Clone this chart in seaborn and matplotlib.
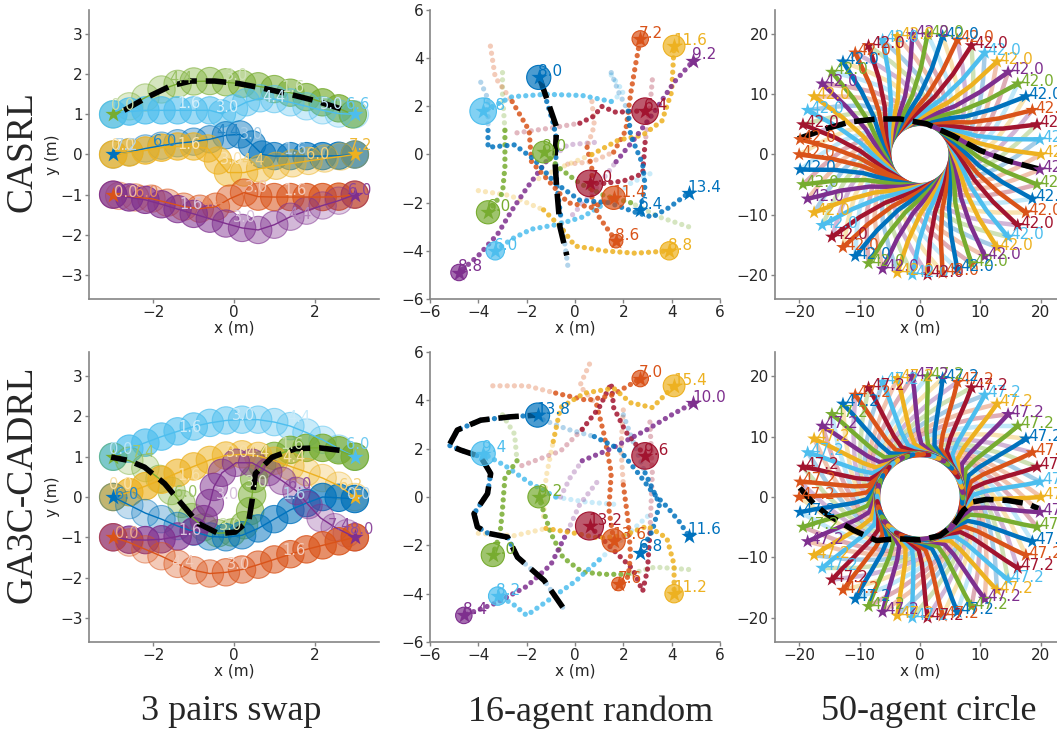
import numpy as np
import pandas as pd
import matplotlib
matplotlib.use("Agg")
import matplotlib.pyplot as plt
import seaborn as sns
from matplotlib.patches import Circle
from matplotlib.colors import to_rgb

# ------------------------------------------------------------------ data
row_labels = ["CASRL", "GA3C-CADRL"]
col_labels = ["3 pairs swap", "16-agent random", "50-agent circle"]

palette_hex = {"B": "#0072BD", "O": "#D95319", "Y": "#EDB120", "P": "#7E2F8E",
               "G": "#77AC30", "L": "#4DBEEE", "R": "#A2142F"}

# ---- 3 pairs swap, CASRL (start -> goal, one point per time step)
swap_casrl_paths = {
    "G": [(2.95, 1.0), (2.6, 1.15), (2.2, 1.3), (1.8, 1.43), (1.4, 1.54), (1.0, 1.63), (0.6, 1.7),
          (0.2, 1.76), (-0.2, 1.8), (-0.6, 1.83), (-1.0, 1.82), (-1.4, 1.76), (-1.8, 1.62),
          (-2.2, 1.42), (-2.6, 1.2), (-3.0, 1.0)],
    "L": [(-3.0, 1.0), (-2.6, 1.07), (-2.2, 1.1), (-1.8, 1.1), (-1.4, 1.1), (-1.0, 1.1), (-0.6, 1.1),
          (-0.3, 1.02), (0.0, 1.15), (0.3, 1.3), (0.65, 1.4), (1.0, 1.38), (1.4, 1.3), (1.8, 1.2),
          (2.2, 1.1), (2.6, 1.02), (3.0, 1.0)],
    "B": [(3.0, 0.0), (2.6, -0.03), (2.2, -0.04), (1.8, -0.04), (1.4, -0.04), (1.0, -0.04), (0.7, 0.0),
          (0.45, 0.25), (0.15, 0.5), (-0.2, 0.48), (-0.6, 0.38), (-1.0, 0.32), (-1.4, 0.28),
          (-1.8, 0.22), (-2.2, 0.15), (-2.6, 0.06), (-3.0, 0.0)],
    "Y": [(-3.0, 0.0), (-2.6, 0.05), (-2.2, 0.1), (-1.8, 0.17), (-1.4, 0.2), (-1.0, 0.2), (-0.65, 0.15),
          (-0.4, -0.15), (-0.15, -0.45), (0.25, -0.45), (0.65, -0.35), (1.05, -0.28), (1.45, -0.22),
          (1.85, -0.16), (2.25, -0.1), (2.65, -0.05), (3.0, 0.0)],
    "O": [(3.0, -1.0), (2.6, -1.05), (2.2, -1.06), (1.8, -1.06), (1.4, -1.06), (1.0, -1.06), (0.6, -1.05),
          (0.25, -0.95), (-0.1, -1.1), (-0.45, -1.3), (-0.85, -1.35), (-1.25, -1.3), (-1.65, -1.2),
          (-2.05, -1.1), (-2.45, -1.07), (-2.85, -1.03), (-3.0, -1.0)],
    "P": [(-3.0, -1.0), (-2.6, -1.07), (-2.2, -1.13), (-1.8, -1.24), (-1.4, -1.36), (-1.0, -1.48),
          (-0.6, -1.6), (-0.2, -1.72), (0.2, -1.83), (0.6, -1.88), (1.0, -1.75), (1.4, -1.55),
          (1.8, -1.4), (2.2, -1.27), (2.6, -1.15), (3.0, -1.0)],
}
swap_casrl_dashed = [(-2.73, 1.1), (-2.15, 1.43), (-1.57, 1.71), (-1.07, 1.83), (-0.48, 1.83),
                     (0.1, 1.77), (0.68, 1.66), (1.35, 1.51), (2.02, 1.34), (2.77, 1.1)]
swap_casrl_labels = [
    ("0.0", -3.05, 1.12, "G", 0.4), ("4.4", -1.6, 1.77, "G", 0.75), ("3.0", -0.23, 1.85, "G", 0.35),
    ("1.6", 1.18, 1.55, "G", 0.35), ("5.0", 2.14, 1.13, "L", 0.35), ("6.6", 2.77, 1.13, "L", 0.9),
    ("1.6", -1.4, 1.17, "L", 0.25), ("3.0", -0.44, 1.05, "L", 0.25), ("4.4", 0.7, 1.3, "L", 0.3),
    ("0.0", -3.06, 0.1, "Y", 0.4), ("7.2", -2.95, 0.1, "B", 0.3), ("6.0", -2.0, 0.22, "B", 0.85),
    ("1.6", -1.4, 0.14, "Y", 0.35), ("4.4", -0.44, 0.47, "B", 0.85), ("3.0", 0.14, 0.39, "B", 0.35),
    ("1.6", 1.22, 0.02, "B", 0.35), ("3.0", -0.36, -0.23, "Y", 0.35), ("4.4", 0.18, -0.27, "Y", 0.6),
    ("6.0", 1.8, -0.1, "Y", 0.6), ("7.2", 2.84, 0.1, "Y", 0.9),
    ("0.0", -2.97, -1.06, "O", 0.4), ("6.0", -2.45, -1.06, "O", 0.7), ("1.6", -1.35, -1.35, "P", 0.3),
    ("4.4", -0.8, -1.3, "O", 0.7), ("3.0", 0.28, -0.94, "O", 0.35), ("1.6", 1.22, -1.02, "O", 0.3),
    ("3.0", -0.03, -1.68, "P", 0.3), ("4.4", 1.35, -1.6, "P", 0.6), ("6.0", 2.84, -1.02, "P", 0.9),
]

# ---- 3 pairs swap, GA3C-CADRL
swap_ga3c_paths = {
    "L": [(-3.0, 1.0), (-2.6, 1.2), (-2.2, 1.35), (-1.8, 1.5), (-1.4, 1.63), (-1.0, 1.75), (-0.6, 1.84),
          (-0.2, 1.9), (0.2, 1.92), (0.6, 1.92), (1.0, 1.86), (1.4, 1.76), (1.8, 1.6), (2.2, 1.42),
          (2.6, 1.2), (3.0, 1.0)],
    "G": [(3.0, 1.0), (2.6, 1.16), (2.2, 1.22), (1.8, 1.22), (1.4, 1.17), (1.0, 1.02), (0.7, 0.8),
          (0.5, 0.45), (0.45, 0.05), (0.4, -0.35), (0.25, -0.7), (-0.05, -0.88), (-0.4, -0.9),
          (-0.75, -0.75), (-1.05, -0.5), (-1.3, -0.17), (-1.55, 0.15), (-1.85, 0.45), (-2.2, 0.72),
          (-2.6, 0.9), (-3.0, 1.0)],
    "Y": [(-3.0, 0.0), (-2.6, 0.12), (-2.2, 0.27), (-1.8, 0.43), (-1.4, 0.6), (-1.0, 0.76), (-0.6, 0.92),
          (-0.2, 1.03), (0.2, 1.06), (0.6, 1.02), (1.0, 0.9), (1.4, 0.76), (1.8, 0.62), (2.2, 0.47),
          (2.6, 0.28), (3.0, 0.0)],
    "B": [(3.0, -0.05), (2.6, -0.02), (2.2, 0.0), (1.8, -0.15), (1.4, -0.32), (1.0, -0.55), (0.6, -0.78),
          (0.2, -0.95), (-0.2, -1.0), (-0.6, -0.98), (-1.0, -0.86), (-1.4, -0.72), (-1.8, -0.55),
          (-2.2, -0.4), (-2.6, -0.2), (-3.0, 0.0)],
    "P": [(-3.0, -1.0), (-2.6, -1.06), (-2.2, -1.07), (-1.8, -1.05), (-1.4, -0.98), (-1.0, -0.85),
          (-0.75, -0.55), (-0.6, -0.15), (-0.5, 0.25), (-0.3, 0.6), (0.05, 0.85), (0.45, 0.85),
          (0.85, 0.62), (1.2, 0.4), (1.55, 0.15), (1.85, -0.2), (2.15, -0.52), (2.5, -0.75),
          (2.8, -0.9), (3.0, -1.0)],
    "O": [(3.0, -1.0), (2.6, -1.1), (2.2, -1.2), (1.8, -1.3), (1.4, -1.42), (1.0, -1.55), (0.6, -1.68),
          (0.2, -1.8), (-0.2, -1.87), (-0.6, -1.9), (-1.0, -1.82), (-1.4, -1.66), (-1.8, -1.47),
          (-2.2, -1.3), (-2.6, -1.13), (-3.0, -1.0)],
}
swap_ga3c_dashed = [(2.62, 1.16), (2.12, 1.22), (1.53, 1.2), (0.95, 0.99), (0.53, 0.58), (0.45, -0.08),
                    (0.37, -0.58), (0.03, -0.87), (-0.38, -0.91), (-0.88, -0.66), (-1.3, -0.17),
                    (-1.72, 0.33), (-2.22, 0.74), (-2.63, 0.91), (-3.05, 0.99)]
swap_ga3c_labels = [
    ("0.0", -3.1, 1.07, "L", 0.4), ("1.6", -1.38, 1.61, "L", 0.3), ("3.0", -0.05, 1.9, "L", 0.3),
    ("4.4", 1.32, 1.86, "L", 0.3), ("6.0", 2.78, 1.2, "L", 0.8),
    ("7.4", -2.55, 1.0, "G", 0.7), ("1.6", 1.16, 1.2, "G", 0.4), ("4.4", 1.2, 0.87, "Y", 0.4),
    ("3.0", 0.28, 0.25, "G", 0.3), ("3.0", -0.38, -0.83, "G", 0.4), ("6.0", -1.5, 0.0, "G", 0.75),
    ("1.6", -1.4, 0.41, "Y", 0.4), ("3.0", -0.2, 0.99, "Y", 0.4), ("4.4", 0.3, 0.99, "Y", 0.4),
    ("6.2", 2.6, 0.17, "Y", 0.6), ("0.0", -3.1, 0.2, "Y", 0.4),
    ("6.0", -2.95, -0.05, "B", 0.85), ("1.6", 1.2, -0.05, "B", 0.3), ("0.0", 2.8, -0.05, "B", 0.3),
    ("1.6", -1.38, -0.95, "P", 0.3), ("3.0", -0.45, -0.05, "P", 0.3), ("6.0", 1.33, 0.21, "P", 0.85),
    ("7.4", 2.33, -0.83, "P", 0.85), ("8.0", 2.87, -0.91, "P", 0.85), ("0.0", -2.96, -1.03, "O", 0.5),
    ("1.6", 1.2, -1.45, "O", 0.3), ("3.0", -0.17, -1.78, "O", 0.3), ("4.4", -1.55, -1.74, "O", 0.3),
]

# ---- 16-agent random, CASRL (color, agent radius at goal, final time, path start -> goal)
rand_casrl_colors = ["B", "L", "G", "G", "L", "P", "R", "O", "O", "R", "O", "Y", "P", "B", "B", "Y"]
rand_casrl_radius = [0.5, 0.55, 0.45, 0.48, 0.38, 0.34, 0.55, 0.48, 0.28, 0.55, 0.34, 0.45, 0.0, 0.0, 0.0, 0.38]
rand_casrl_times = ["8.0", "5.8", "8.0", "6.0", "6.0", "8.8", "7.0", "11.4", "8.6", "6.4", "7.2", "11.6",
                    "9.2", "13.4", "6.4", "8.8"]
rand_casrl_paths = [
    [(-0.3, -4.6), (-0.45, -3.5), (-0.6, -2.5), (-0.75, -1.3), (-0.8, -0.3), (-0.75, 0.6), (-0.9, 1.3), (-1.2, 2.3), (-1.5, 3.2)],
    [(1.5, 3.3), (2.0, 2.6), (1.5, 2.2), (0.3, 2.45), (-1.2, 2.5), (-2.6, 2.4), (-3.8, 1.8)],
    [(4.7, -3.0), (3.5, -2.6), (2.3, -2.0), (1.2, -1.7), (0.2, -1.2), (-0.6, -0.6), (-1.3, 0.1)],
    [(-3.0, 3.4), (-3.0, 2.5), (-2.9, 1.0), (-2.9, -0.5), (-3.0, -1.6), (-3.6, -2.4)],
    [(3.1, -0.8), (2.3, -1.2), (1.3, -2.0), (0.3, -2.6), (-0.7, -2.9), (-1.8, -3.1), (-2.6, -3.5), (-3.3, -4.0)],
    [(0.8, 0.5), (-0.3, 0.4), (-1.2, -0.3), (-2.0, -1.4), (-2.6, -2.3), (-3.2, -3.3), (-4.0, -4.2), (-4.8, -4.9)],
    [(3.2, 3.1), (3.1, 2.0), (2.9, 0.5), (2.8, -0.8), (2.0, -1.1), (1.2, -1.2), (0.6, -1.2)],
    [(-3.5, 4.5), (-3.3, 3.2), (-2.6, 2.2), (-1.9, 1.0), (-1.8, -0.3), (-1.0, -1.2), (-0.3, -2.0), (0.7, -2.2), (1.6, -1.8)],
    [(0.7, 2.2), (0.8, 1.2), (0.5, 0.3), (0.7, -0.6), (0.7, -1.8), (1.0, -2.6), (1.7, -3.6)],
    [(-2.4, 0.9), (-1.0, 1.1), (0.2, 1.3), (0.8, 1.6), (1.1, 2.0), (1.7, 1.75), (2.4, 1.8), (2.9, 1.8)],
    [(-0.3, -0.4), (0.7, -0.3), (1.6, 0.1), (2.1, 1.0), (2.3, 2.5), (2.5, 3.7), (2.7, 4.8)],
    [(-1.5, -1.0), (-0.5, -0.5), (0.7, 0.0), (1.8, 0.6), (2.8, 0.8), (3.6, 1.4), (4.0, 2.6), (4.1, 4.5)],
    [(-0.1, -2.5), (0.8, -1.5), (1.7, -0.3), (2.5, 0.7), (3.3, 1.8), (4.1, 3.0), (4.9, 3.9)],
    [(-3.9, 3.0), (-3.6, 2.3), (-3.6, 1.0), (-3.6, 0.3), (-2.5, 0.4), (-1.7, -0.2), (-0.8, -1.2), (0.2, -1.9), (1.4, -2.0), (2.5, -2.4), (3.2, -2.6), (3.9, -2.2), (4.7, -1.6)],
    [(1.5, 3.4), (1.8, 2.6), (2.2, 1.8), (2.3, 0.8), (2.8, -0.4), (2.9, -1.3), (2.7, -2.3)],
    [(-4.0, -1.5), (-2.7, -1.7), (-1.3, -2.3), (-0.6, -3.0), (0.0, -3.8), (1.2, -4.0), (2.5, -4.1), (3.9, -4.0)],
]
rand_casrl_dashed = [(-1.45, 3.14), (-0.76, 1.13), (-0.83, -0.25), (-0.76, -1.36), (-0.62, -3.02), (-0.34, -4.19)]

# ---- 16-agent random, GA3C-CADRL
rand_ga3c_colors = ["B", "L", "G", "G", "L", "P", "R", "O", "O", "R", "O", "Y", "P", "B", "B", "Y"]
rand_ga3c_radius = [0.5, 0.5, 0.45, 0.48, 0.38, 0.34, 0.58, 0.48, 0.28, 0.55, 0.34, 0.45, 0.0, 0.0, 0.0, 0.38]
rand_ga3c_times = ["13.8", "9.4", "9.2", "7.0", "8.2", "8.4", "13.2", "13.6", "7.6", "9.6", "7.0", "15.4",
                   "10.0", "11.6", "6.8", "11.2"]
rand_ga3c_paths = [
    [(-0.51, -4.56), (-1.27, -3.46), (-2.38, -2.49), (-2.79, -1.66), (-3.6, -1.5), (-4.04, -1.24), (-4.18, -0.69), (-3.62, 0.14), (-3.49, 0.97), (-3.9, 1.66), (-4.73, 1.94), (-5.21, 2.14), (-4.87, 2.77), (-3.9, 3.18), (-2.66, 3.32), (-1.55, 3.39)],
    [(1.6, -0.3), (0.4, -0.2), (-0.8, 0.0), (-1.9, 0.6), (-2.9, 1.3), (-3.8, 1.8)],
    [(4.7, -3.0), (3.3, -2.9), (2.2, -3.2), (1.2, -3.2), (0.3, -3.1), (-0.5, -2.5), (-1.0, -1.5), (-1.3, -0.6), (-1.5, 0.0)],
    [(-3.0, 3.4), (-2.5, 2.6), (-2.4, 1.5), (-2.9, 0.8), (-3.0, -0.5), (-3.1, -1.5), (-3.4, -2.4)],
    [(3.0, -0.8), (2.0, -1.7), (1.0, -2.6), (0.0, -3.5), (-1.0, -4.2), (-2.0, -4.9), (-2.6, -4.4), (-3.2, -4.1)],
    [(0.9, 0.6), (0.2, -0.3), (-0.3, -1.4), (-1.0, -2.8), (-2.0, -3.7), (-3.3, -4.4), (-4.6, -4.9)],
    [(3.1, 3.1), (3.2, 1.0), (3.1, -1.5), (3.0, -3.0), (2.8, -3.9), (2.4, -3.0), (1.6, -2.2), (0.6, -1.2)],
    [(0.6, 5.5), (0.2, 4.6), (0.9, 3.8), (1.2, 2.6), (1.5, 1.0), (1.4, -0.5), (1.6, -1.8)],
    [(2.0, 3.6), (1.9, 2.0), (2.0, 0.5), (2.2, -1.0), (2.3, -2.4), (2.2, -3.3), (1.8, -3.6)],
    [(-2.2, 1.3), (-0.6, 1.9), (0.3, 2.8), (1.0, 3.7), (1.5, 4.7), (1.6, 3.7), (2.1, 2.7), (2.9, 1.7)],
    [(-3.4, 4.6), (-2.0, 4.6), (-0.8, 4.3), (0.5, 4.0), (1.5, 4.2), (2.2, 4.6), (2.7, 4.9)],
    [(-1.3, -0.8), (-1.2, 0.8), (-0.9, 2.3), (-0.6, 3.7), (0.4, 4.3), (1.6, 4.5), (2.3, 3.9), (3.2, 3.7), (4.1, 4.6)],
    [(-0.6, 0.0), (-0.2, 0.8), (0.3, 1.5), (1.5, 2.0), (3.0, 2.8), (4.0, 3.4), (4.9, 3.9)],
    [(-1.6, 3.3), (-0.3, 2.8), (0.8, 2.5), (1.8, 2.0), (2.6, 1.0), (3.2, 0.2), (3.8, -0.4), (4.3, -1.0), (4.7, -1.6)],
    [(2.0, 3.4), (2.4, 2.3), (2.9, 1.0), (3.5, -0.3), (3.2, -1.4), (2.7, -2.3)],
    [(-4.0, -1.5), (-2.5, -1.6), (-1.2, -1.3), (0.0, -1.5), (1.0, -1.7), (2.0, -1.6), (3.0, -1.2), (3.8, -1.7), (4.1, -2.8), (4.1, -4.0)],
]
rand_ga3c_dashed = [(-0.51, -4.56), (-1.27, -3.46), (-2.38, -2.49), (-2.79, -1.66), (-3.6, -1.5), (-4.04, -1.24),
                    (-4.18, -0.69), (-3.62, 0.14), (-3.49, 0.97), (-3.9, 1.66), (-4.73, 1.94), (-5.21, 2.14),
                    (-4.87, 2.77), (-3.9, 3.18), (-2.66, 3.32), (-1.55, 3.39)]

# ---- 50-agent circle: goal angles (deg) and colors, and the shared path shape (radius, angle travelled)
circle_goal_deg = [0.0, 7.2, 14.4, 21.6, 28.8, 36.0, 43.2, 50.4, 57.6, 64.8, 72.0, 79.2, 86.4, 93.6, 100.8,
                   108.0, 115.2, 122.4, 129.6, 136.8, 144.0, 151.2, 158.4, 165.6, 172.8, 180.0, 187.2, 194.4,
                   201.6, 208.8, 216.0, 223.2, 230.4, 237.6, 244.8, 252.0, 259.2, 266.4, 273.6, 280.8, 288.0,
                   295.2, 302.4, 309.6, 316.8, 324.0, 331.2, 338.4, 345.6, 352.8]
circle_goal_radius = 20.0
circle_colors = "YLROBGPYLROBGPYLROBGPYLRO" + "OBGPYLROBGPYLROBGPYLROBGP"
circle_casrl_time = "42.0"
circle_ga3c_time = "47.2"
casrl_prof_r = [20.0, 16.1, 12.8, 9.3, 6.8, 5.2, 6.3, 9.9, 14.4, 20.0]
casrl_prof_dth = [0, -8, -18, -32, -54, -95, -143, -169, -177, -180]
ga3c_prof_r = [20.0, 15.8, 12.3, 10.2, 7.9, 7.1, 7.2, 7.3, 7.6, 8.8, 11.0, 14.4, 17.7, 20.0]
ga3c_prof_dth = [0, 12, 29, 47, 63, 92, 120, 142, 162, 175, 178, 179, 179.5, 180]
circle_casrl_dashed = [(-20.2, 2.6), (-15.5, 4.3), (-11.6, 5.4), (-7.2, 5.9), (-3.3, 5.9), (1.1, 5.1),
                       (5.5, 3.1), (9.9, 0.7), (14.4, -1.0), (19.6, -2.4)]
circle_ga3c_dashed = [(-19.9, 1.5), (-17.5, -1.2), (-15.5, -2.8), (-11.0, -5.5), (-7.2, -7.2), (-3.9, -6.9),
                      (0.0, -7.1), (3.3, -6.4), (5.5, -4.7), (7.2, -2.2), (8.8, -0.8), (11.0, -0.4),
                      (14.4, -0.55), (17.7, -1.1), (19.6, -1.9)]

# ------------------------------------------------------------------ style
sns.set_style("ticks")
plt.rcParams["font.family"] = ["DejaVu Sans"]
SERIF = ["Liberation Serif", "DejaVu Serif"]
SPINE = "#858585"


def tint(c, a):
    r, g, b = to_rgb(c)
    return (1 - a + a * r, 1 - a + a * g, 1 - a + a * b)


def xy(pts):
    return [p[0] for p in pts], [p[1] for p in pts]


def draw_swap(ax, paths, dashed, labels):
    for key, pts in paths.items():
        col = palette_hex[key]
        r, g, b = to_rgb(col)
        n = len(pts)
        for i, (x, y) in enumerate(pts):
            a = 0.72 - 0.52 * i / (n - 1)
            ax.add_patch(Circle((x, y), 0.34, facecolor=(r, g, b, a),
                                edgecolor=(r, g, b, min(1.0, a + 0.2)), lw=0.8, zorder=2))
        xs, ys = xy(pts)
        sns.lineplot(x=xs, y=ys, sort=False, estimator=None, color=col, lw=1.0, ax=ax, zorder=3)
        sns.scatterplot(x=[xs[-1]], y=[ys[-1]], marker="*", s=150, color=col, linewidth=0, ax=ax, zorder=4)
    dx, dy = xy(dashed)
    sns.lineplot(x=dx, y=dy, sort=False, estimator=None, color="black", lw=4, linestyle="--", ax=ax, zorder=5)
    for s, x, y, key, a in labels:
        ax.text(x, y, s, color=tint(palette_hex[key], a), fontsize=10.5, ha="left", va="baseline", zorder=6)


def path_frame(paths, lo, hi):
    rows = []
    for i, pts in enumerate(paths):
        seg = pts[lo:hi] if hi is not None else pts[lo:]
        for j, (x, y) in enumerate(seg):
            rows.append({"agent": f"a{i:02d}", "step": j, "x": x, "y": y})
    return pd.DataFrame(rows)


def draw_random(ax, colors, radii, times, paths, dashed):
    pal = {f"a{i:02d}": palette_hex[c] for i, c in enumerate(colors)}
    dot = (0, (0.01, 1.35))
    pale = path_frame(paths, 0, 3)
    solid = path_frame(paths, 2, None)
    sns.lineplot(data=pale, x="x", y="y", hue="agent", palette=pal, sort=False, estimator=None,
                 legend=False, lw=3.8, alpha=0.3, linestyle=dot, dash_capstyle="round", ax=ax, zorder=2)
    sns.lineplot(data=solid, x="x", y="y", hue="agent", palette=pal, sort=False, estimator=None,
                 legend=False, lw=3.8, alpha=0.85, linestyle=dot, dash_capstyle="round", ax=ax, zorder=2)
    dx, dy = xy(dashed)
    sns.lineplot(x=dx, y=dy, sort=False, estimator=None, color="black", lw=4, linestyle="--", ax=ax, zorder=3)
    for c, rad, t, pts in zip(colors, radii, times, paths):
        col = palette_hex[c]
        gx, gy = pts[-1]
        if rad > 0:
            r, g, b = to_rgb(col)
            ax.add_patch(Circle((gx, gy), rad, facecolor=(r, g, b, 0.7), edgecolor=col, lw=0.8, zorder=4))
        sns.scatterplot(x=[gx], y=[gy], marker="*", s=150, color=col, linewidth=0, ax=ax, zorder=5)
        ax.text(gx - 0.05, gy + 0.05, t, color=col, fontsize=11, ha="left", va="baseline", zorder=6)


def draw_circle(ax, prof_r, prof_dth, split, dashed, tlabel):
    pal = {}
    pale_rows, solid_rows, gxs, gys = [], [], [], []
    for k, g in enumerate(circle_goal_deg):
        name = f"a{k:02d}"
        pal[name] = palette_hex[circle_colors[k]]
        s = g + 180.0
        for j, (r, d) in enumerate(zip(prof_r, prof_dth)):
            th = np.deg2rad(s + d)
            row = {"agent": name, "step": j, "x": r * np.cos(th), "y": r * np.sin(th)}
            if j <= split:
                pale_rows.append(row)
            if j >= split:
                solid_rows.append(row)
        gxs.append(circle_goal_radius * np.cos(np.deg2rad(g)))
        gys.append(circle_goal_radius * np.sin(np.deg2rad(g)))
    sns.lineplot(data=pd.DataFrame(pale_rows), x="x", y="y", hue="agent", palette=pal, sort=False,
                 estimator=None, legend=False, lw=3.2, alpha=0.35, ax=ax, zorder=2)
    sns.lineplot(data=pd.DataFrame(solid_rows), x="x", y="y", hue="agent", palette=pal, sort=False,
                 estimator=None, legend=False, lw=3.2, alpha=1.0, ax=ax, zorder=2)
    dx, dy = xy(dashed)
    sns.lineplot(x=dx, y=dy, sort=False, estimator=None, color="black", lw=4, linestyle="--", ax=ax, zorder=3)
    names = [f"a{k:02d}" for k in range(len(circle_goal_deg))]
    sns.scatterplot(x=gxs, y=gys, hue=names, palette=pal, marker="*", s=110, linewidth=0,
                    legend=False, ax=ax, zorder=4)
    for k, (x, y) in enumerate(zip(gxs, gys)):
        ax.text(x + 0.4, y - 0.4, tlabel, color=palette_hex[circle_colors[k]], fontsize=11,
                ha="left", va="baseline", zorder=5)


# ------------------------------------------------------------------ figure
W, H = 1057, 735
fig = plt.figure(figsize=(W / 100, H / 100), dpi=100)
col_x = [89, 430, 775]
rows_px = [(10, 299), (352, 642)]
lims = [3.6, 6.0, 24.0]
xticks = [[-2, 0, 2], [-6, -4, -2, 0, 2, 4, 6], [-20, -10, 0, 10, 20]]
yticks = [[-3, -2, -1, 0, 1, 2, 3], [-6, -4, -2, 0, 2, 4, 6], [-20, -10, 0, 10, 20]]

for ri in range(2):
    top, bot = rows_px[ri]
    for ci in range(3):
        ax = fig.add_axes([col_x[ci] / W, 1 - bot / H, 290 / W, (bot - top) / H])
        if ci == 0:
            if ri == 0:
                draw_swap(ax, swap_casrl_paths, swap_casrl_dashed, swap_casrl_labels)
            else:
                draw_swap(ax, swap_ga3c_paths, swap_ga3c_dashed, swap_ga3c_labels)
        elif ci == 1:
            if ri == 0:
                draw_random(ax, rand_casrl_colors, rand_casrl_radius, rand_casrl_times, rand_casrl_paths,
                            rand_casrl_dashed)
            else:
                draw_random(ax, rand_ga3c_colors, rand_ga3c_radius, rand_ga3c_times, rand_ga3c_paths,
                            rand_ga3c_dashed)
        else:
            if ri == 0:
                draw_circle(ax, casrl_prof_r, casrl_prof_dth, 5, circle_casrl_dashed, circle_casrl_time)
            else:
                draw_circle(ax, ga3c_prof_r, ga3c_prof_dth, 5, circle_ga3c_dashed, circle_ga3c_time)
        L = lims[ci]
        ax.set_xlim(-L, L)
        ax.set_ylim(-L, L)
        ax.set_xticks(xticks[ci])
        ax.set_yticks(yticks[ci])
        ax.tick_params(labelsize=11, length=3, pad=1.5, color=SPINE, width=1.0)
        sns.despine(ax=ax)
        for sp in ("left", "bottom"):
            ax.spines[sp].set_color(SPINE)
            ax.spines[sp].set_linewidth(1.2)
        ax.set_xlabel("x (m)", fontsize=11, labelpad=0)
        if ci == 0:
            ax.set_ylabel("y (m)", fontsize=11, labelpad=0)
        else:
            ax.set_ylabel("")

fig.text(22 / W, 1 - 152 / H, row_labels[0], rotation=90, fontsize=27, family=SERIF, ha="center", va="center")
fig.text(22 / W, 1 - 484 / H, row_labels[1], rotation=90, fontsize=27, family=SERIF, ha="center", va="center")
for cx, lab in zip([231, 591, 929], col_labels):
    fig.text(cx / W, 1 - 712 / H, lab, fontsize=26, family=SERIF, ha="center", va="center")

fig.savefig("out.png", dpi=100)
